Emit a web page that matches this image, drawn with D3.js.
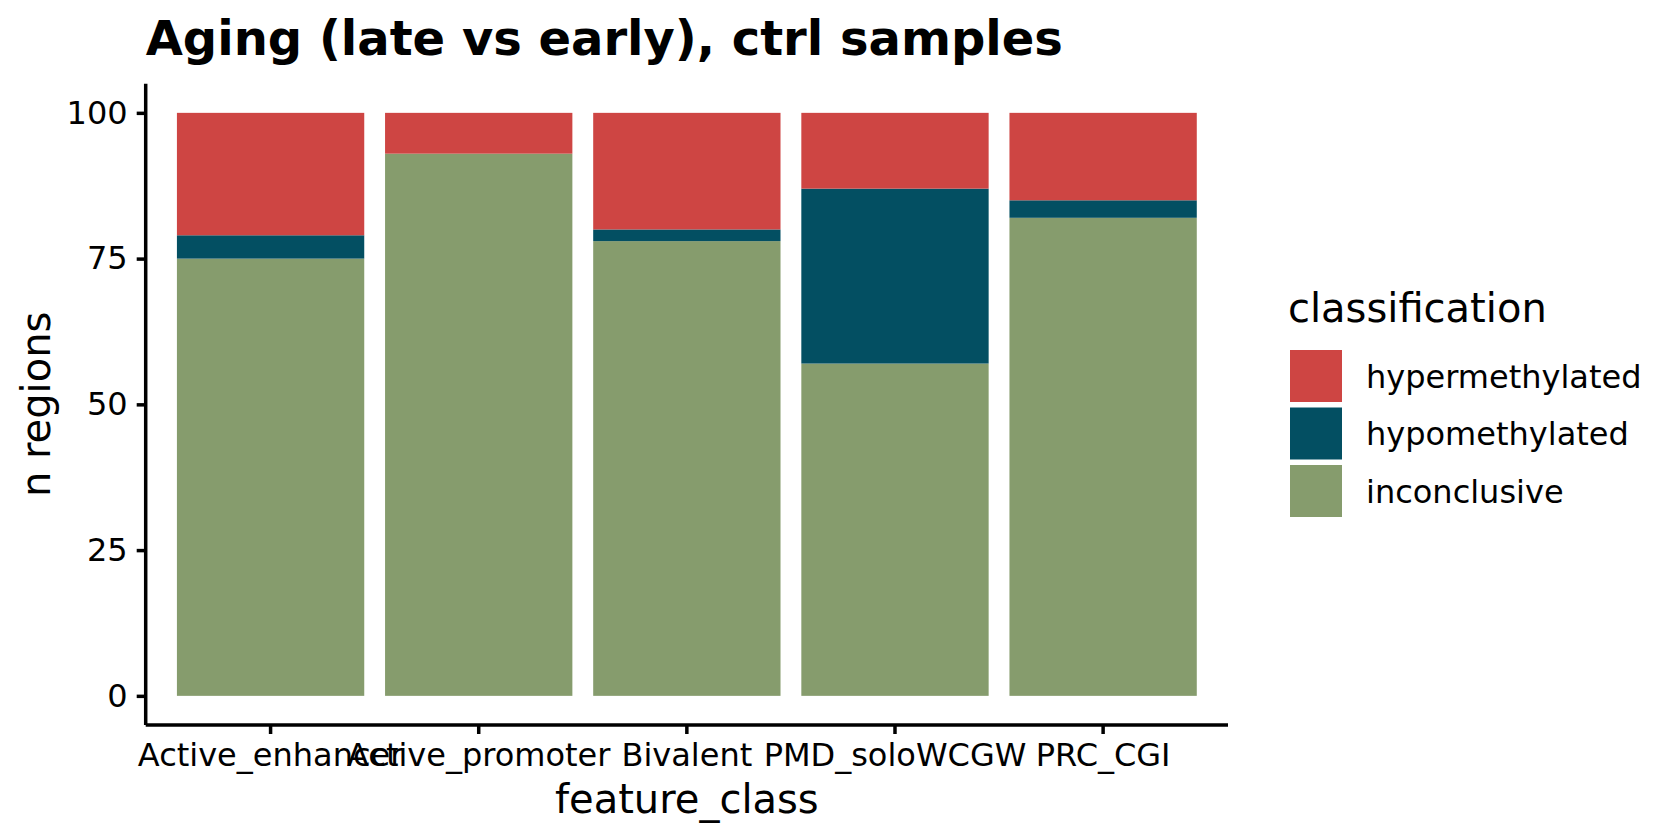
<!DOCTYPE html>
<html>
<head>
<meta charset="utf-8">
<script src="https://cdn.jsdelivr.net/npm/d3@7"></script>
<style>
  body { margin: 0; background: #fff; }
  text { font-family: "DejaVu Sans", sans-serif; fill: #000; }
</style>
</head>
<body>
<svg id="chart" width="1680" height="840"></svg>
<script>
// Daten
const categories = ["Active_enhancer", "Active_promoter", "Bivalent", "PMD_soloWCGW", "PRC_CGI"];
const classes = ["hypermethylated", "hypomethylated", "inconclusive"];
const hyper = [21, 7, 20, 13, 15];
const hypo = [4, 0, 2, 30, 3];
const inconclusive = [75, 93, 78, 57, 82];
const yTicks = [0, 25, 50, 75, 100];
const colors = ["#CE4543", "#034F62", "#869C6D"];

const svg = d3.select("#chart");
const panel = { left: 145.7, right: 1228, top: 83.7, bottom: 725 };

// Tabelle für den Stack
const rows = categories.map((c, i) => ({
  feature: c,
  hypermethylated: hyper[i],
  hypomethylated: hypo[i],
  inconclusive: inconclusive[i],
}));

const x = d3.scaleBand()
  .domain(categories)
  .range([panel.left, panel.right])
  .paddingInner(0.1)
  .paddingOuter(0.15);

const y = d3.scaleLinear()
  .domain([-5, 105])
  .range([panel.bottom, panel.top]);

const color = d3.scaleOrdinal().domain(classes).range(colors);

// ggplot stapelt die erste Stufe oben, daher umgekehrte Reihenfolge
const stack = d3.stack().keys(classes.slice().reverse());
const series = stack(rows);

svg.append("g")
  .selectAll("g")
  .data(series)
  .join("g")
  .attr("fill", (d) => color(d.key))
  .selectAll("rect")
  .data((d) => d)
  .join("rect")
  .attr("x", (d) => x(d.data.feature))
  .attr("width", x.bandwidth())
  .attr("y", (d) => y(d[1]))
  .attr("height", (d) => y(d[0]) - y(d[1]));

// Achsen
const yAxis = svg.append("g")
  .attr("transform", `translate(${panel.left},0)`)
  .call(d3.axisLeft(y).tickValues(yTicks).tickSize(9).tickPadding(9));

const xAxis = svg.append("g")
  .attr("transform", `translate(0,${panel.bottom})`)
  .call(d3.axisBottom(x).tickSize(9).tickPadding(9));

[yAxis, xAxis].forEach((ax) => {
  ax.select(".domain").attr("stroke", "#000").attr("stroke-width", 3.5);
  ax.selectAll(".tick line").attr("stroke", "#000").attr("stroke-width", 3.5);
  ax.selectAll(".tick text")
    .attr("font-size", 32)
    .attr("font-family", "DejaVu Sans")
    .attr("fill", "#000");
});
xAxis.selectAll(".tick text").attr("dy", "0.72em");
yAxis.select(".domain").attr("d", `M0,${panel.bottom}V${panel.top}`);
xAxis.select(".domain").attr("d", `M${panel.left},0H${panel.right}`);

// Titel
svg.append("text")
  .attr("x", panel.left)
  .attr("y", 55)
  .attr("font-size", 48)
  .attr("font-weight", "bold")
  .text("Aging (late vs early), ctrl samples");

svg.append("text")
  .attr("x", (panel.left + panel.right) / 2)
  .attr("y", 813)
  .attr("text-anchor", "middle")
  .attr("font-size", 40)
  .text("feature_class");

svg.append("text")
  .attr("transform", `translate(50,${(panel.top + panel.bottom) / 2}) rotate(-90)`)
  .attr("text-anchor", "middle")
  .attr("font-size", 40)
  .text("n regions");

// Legende
const legend = svg.append("g").attr("transform", "translate(1290,0)");
legend.append("text")
  .attr("x", -2)
  .attr("y", 322)
  .attr("font-size", 40)
  .text("classification");

const items = legend.selectAll("g.item")
  .data(classes)
  .join("g")
  .attr("class", "item")
  .attr("transform", (d, i) => `translate(0,${350 + i * 57.5})`);

items.append("rect")
  .attr("width", 52)
  .attr("height", 52)
  .attr("fill", (d) => color(d));

items.append("text")
  .attr("x", 76)
  .attr("y", 26)
  .attr("dy", "0.36em")
  .attr("font-size", 32)
  .text((d) => d);
</script>
</body>
</html>
